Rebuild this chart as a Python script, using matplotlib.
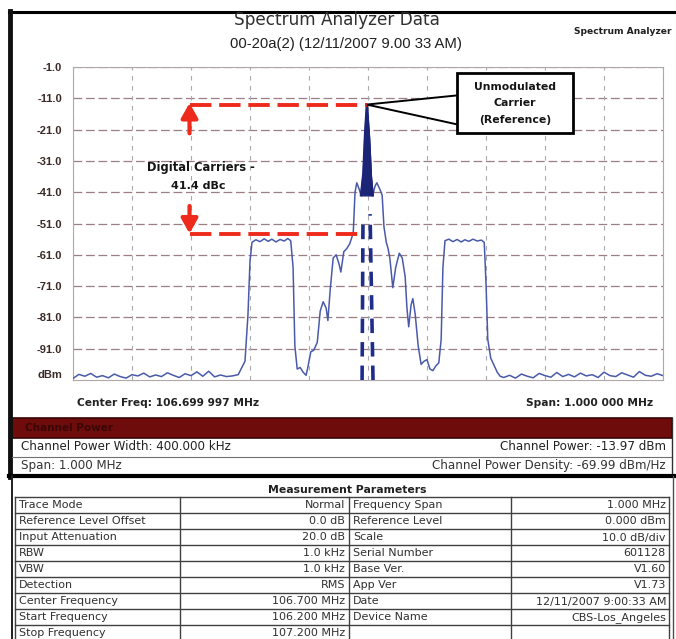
import matplotlib
matplotlib.use('Agg')
import matplotlib.pyplot as plt
from matplotlib.patches import Rectangle, Polygon
from matplotlib.lines import Line2D

plt.rcParams['font.family'] = ['DejaVu Sans']

# ---------------- data ----------------
floor_left_f = [106.20, 106.21, 106.22, 106.23, 106.24, 106.25, 106.26, 106.27, 106.28, 106.29,
                106.30, 106.31, 106.32, 106.33, 106.34, 106.35, 106.36, 106.37, 106.38, 106.39,
                106.40, 106.41, 106.42, 106.43, 106.44, 106.45, 106.46, 106.47, 106.48]
floor_left_db = [-100.5, -99.2, -99.8, -98.9, -100.1, -99.6, -100.3, -99.1, -99.9, -100.4,
                 -99.3, -99.7, -98.8, -100.0, -99.4, -99.9, -98.7, -99.5, -100.2, -99.0,
                 -99.6, -98.4, -99.8, -98.2, -100.0, -99.4, -99.9, -99.7, -99.3]

signal_f = [106.4915, 106.4966, 106.5000, 106.5034, 106.510, 106.517, 106.524, 106.531, 106.537,
            106.544, 106.551, 106.558, 106.564, 106.569, 106.573, 106.576, 106.580, 106.585,
            106.590, 106.595, 106.598, 106.603, 106.608, 106.614, 106.619, 106.624, 106.629,
            106.632, 106.636, 106.641, 106.646, 106.651, 106.654, 106.659, 106.664, 106.669,
            106.675, 106.678, 106.681, 106.685, 106.688, 106.692, 106.695, 106.698, 106.702,
            106.705, 106.708, 106.712, 106.715, 106.720, 106.724, 106.727, 106.731, 106.734,
            106.737, 106.742, 106.747, 106.753, 106.758, 106.763, 106.766, 106.769, 106.773,
            106.776, 106.780, 106.785, 106.790, 106.795, 106.800, 106.805, 106.810, 106.815,
            106.820, 106.824, 106.827, 106.8305, 106.837, 106.844, 106.851, 106.858, 106.864,
            106.871, 106.878, 106.885, 106.892, 106.897, 106.900, 106.903, 106.908, 106.914,
            106.919, 106.924]
signal_db = [-95.0, -80.0, -63.0, -57.0, -56.2, -56.8, -55.9, -56.7, -56.0,
             -56.9, -56.1, -56.6, -55.8, -56.5, -65.0, -90.0, -97.5, -97.0,
             -98.5, -99.5, -97.0, -92.0, -91.5, -89.0, -79.0, -76.0, -78.0,
             -82.0, -72.0, -62.0, -61.0, -64.0, -66.5, -60.0, -59.0, -57.5,
             -54.0, -41.0, -38.0, -40.0, -42.0, -35.0, -22.0, -13.0, -24.0,
             -36.0, -42.0, -39.0, -38.0, -40.0, -42.0, -52.0, -57.0, -59.0,
             -62.0, -71.5, -65.0, -60.5, -62.0, -68.0, -78.0, -84.0, -77.0,
             -75.0, -80.0, -90.0, -96.0, -95.0, -94.5, -97.5, -98.0, -96.5,
             -95.5, -88.0, -65.0, -56.5, -56.0, -56.8, -56.1, -56.9, -56.2,
             -56.7, -56.0, -56.6, -56.3, -57.0, -70.0, -88.0, -94.0, -96.5,
             -98.5, -99.8]

floor_right_f = [106.93, 106.94, 106.95, 106.96, 106.97, 106.98, 106.99, 107.00, 107.01, 107.02,
                 107.03, 107.04, 107.05, 107.06, 107.07, 107.08, 107.09, 107.10, 107.11, 107.12,
                 107.13, 107.14, 107.15, 107.16, 107.17, 107.18, 107.19, 107.20]
floor_right_db = [-100.2, -99.5, -100.4, -99.1, -99.8, -100.3, -98.9, -99.6, -100.1, -98.6,
                  -99.9, -99.2, -100.0, -98.8, -99.7, -99.3, -100.2, -98.5, -99.6, -99.9,
                  -98.7, -99.4, -100.1, -98.3, -99.5, -99.8, -99.0, -99.6]

peak_f = [106.688, 106.692, 106.695, 106.698, 106.702, 106.705, 106.708]
peak_db = [-42.0, -35.0, -22.0, -13.0, -24.0, -36.0, -42.0]

grid_levels = [-1, -11, -21, -31, -41, -51, -61, -71, -81, -91]
ytick_levels = [-1, -11, -21, -31, -41, -51, -61, -71, -81, -91, -99]
ytick_labels = ['-1.0', '-11.0', '-21.0', '-31.0', '-41.0', '-51.0', '-61.0', '-71.0',
                '-81.0', '-91.0', 'dBm']
grid_freqs = [106.2, 106.3, 106.4, 106.5, 106.6, 106.7, 106.8, 106.9, 107.0, 107.1, 107.2]

carrier_ref_db = -13.0
digital_db = -54.4
marker_left = ([106.690, 106.6915], [-101.0, -50.0])
marker_right = ([106.7085, 106.7035], [-101.0, -48.0])

param_labels_l = ['Trace Mode', 'Reference Level Offset', 'Input Attenuation', 'RBW', 'VBW',
                  'Detection', 'Center Frequency', 'Start Frequency', 'Stop Frequency']
param_values_l = ['Normal', '0.0 dB', '20.0 dB', '1.0 kHz', '1.0 kHz', 'RMS',
                  '106.700 MHz', '106.200 MHz', '107.200 MHz']
param_labels_r = ['Frequency Span', 'Reference Level', 'Scale', 'Serial Number', 'Base Ver.',
                  'App Ver', 'Date', 'Device Name', '']
param_values_r = ['1.000 MHz', '0.000 dBm', '10.0 dB/div', '601128', 'V1.60', 'V1.73',
                  '12/11/2007 9:00:33 AM', 'CBS-Los_Angeles', '']

# ---------------- figure ----------------
W, H = 676, 639
fig = plt.figure(figsize=(W / 100, H / 100), dpi=100)
fig.patch.set_facecolor('white')
LIB = ['Liberation Sans', 'DejaVu Sans']


def fx(x):
    return x / W


def fy(y):
    return 1 - y / H


def hline(y, x0, x1, **kw):
    fig.add_artist(Line2D([fx(x0), fx(x1)], [fy(y), fy(y)], transform=fig.transFigure, **kw))


def vline(x, y0, y1, **kw):
    fig.add_artist(Line2D([fx(x), fx(x)], [fy(y0), fy(y1)], transform=fig.transFigure, **kw))


# frame
hline(12, 9, 676, color='black', lw=2.2)
vline(10, 11, 477, color='#101010', lw=3.5)

fig.text(fx(337), fy(20), 'Spectrum Analyzer Data', ha='center', va='center',
         fontsize=12.2, color='#303030')
fig.text(fx(346), fy(44), '00-20a(2) (12/11/2007 9.00 33 AM)', ha='center', va='center',
         fontsize=10.7, color='#202020', family=LIB)
fig.text(fx(672), fy(32), 'Spectrum Analyzer', ha='right', va='center',
         fontsize=6.6, fontweight='bold', color='#202020')

ax = fig.add_axes([fx(73), fy(380), fx(663) - fx(73), fy(67) - fy(380)])
ax.set_xlim(106.2, 107.2)
ax.set_ylim(-101, -1)
for lv in grid_levels:
    ax.axhline(lv, color='#9a7f84', lw=0.9, ls=(0, (7, 3)), zorder=1)
for fq in grid_freqs:
    ax.axvline(fq, color='#a8a8b0', lw=0.8, ls=(0, (4, 5)), zorder=1)
for sp in ax.spines.values():
    sp.set_color('#b0a8a8')
    sp.set_linewidth(0.8)
ax.set_xticks([])
ax.set_yticks(ytick_levels)
ax.set_yticklabels(ytick_labels, fontsize=8, fontweight='bold', color='#3a2a25', family=LIB)
ax.tick_params(axis='y', length=0, pad=8)

trace_f = floor_left_f + signal_f + floor_right_f
trace_db = floor_left_db + signal_db + floor_right_db
ax.plot(trace_f, trace_db, color='#4a5aaa', lw=1.1, zorder=3)
ax.fill_between(peak_f, peak_db, -42.0, color='#1c2478', zorder=4)
ax.plot(peak_f, peak_db, color='#1c2478', lw=1.6, zorder=4)

# channel markers
ax.plot(*marker_left, color='#1f2d8a', lw=2.6, ls=(0, (4, 2.5)), zorder=5)
ax.plot(*marker_right, color='#1f2d8a', lw=2.6, ls=(0, (4, 2.5)), zorder=5)

# red annotations
red = '#ee2a1c'
arrow_f = 106.3975
ax.plot([arrow_f, 106.698], [carrier_ref_db, carrier_ref_db], color=red, lw=2.8,
        ls=(0, (5.5, 2)), zorder=6)
ax.plot([arrow_f, 106.695], [digital_db, digital_db], color=red, lw=2.8,
        ls=(0, (5.5, 2)), zorder=6)
aprops = dict(arrowstyle='-|>,head_width=0.45,head_length=0.8', color=red, lw=3,
              mutation_scale=11, shrinkA=0, shrinkB=0)
ax.annotate('', xy=(arrow_f, carrier_ref_db + 0.5), xytext=(arrow_f, -22.2),
            arrowprops=aprops, zorder=6)
ax.annotate('', xy=(arrow_f, digital_db + 0.2), xytext=(arrow_f, -45.4),
            arrowprops=aprops, zorder=6)
ax.text(106.417, -33.0, 'Digital Carriers -', ha='center', va='center', fontsize=8.3,
        fontweight='bold', color='#151515', zorder=7)
ax.text(106.413, -39.0, '41.4 dBc', ha='center', va='center', fontsize=8.0,
        fontweight='bold', color='#151515', zorder=7)

# callout
ax.add_patch(Polygon([(106.698, carrier_ref_db), (106.855, -10.0), (106.855, -19.5)],
                     closed=True, facecolor='white', edgecolor='black', lw=1.4, zorder=7))
ax.add_patch(Rectangle((106.851, -22.2), 0.196, 19.3, facecolor='white', edgecolor='black',
                       lw=2.0, zorder=8))
ax.text(106.949, -7.4, 'Unmodulated', ha='center', va='center', fontsize=7.8,
        fontweight='bold', color='#151515', zorder=9)
ax.text(106.949, -12.6, 'Carrier', ha='center', va='center', fontsize=7.8,
        fontweight='bold', color='#151515', zorder=9)
ax.text(106.949, -18.0, '(Reference)', ha='center', va='center', fontsize=7.8,
        fontweight='bold', color='#151515', zorder=9)

fig.text(fx(77), fy(403), 'Center Freq: 106.699 997 MHz', ha='left', va='center',
         fontsize=7.7, fontweight='bold', color='#222222')
fig.text(fx(653), fy(403), 'Span: 1.000 000 MHz', ha='right', va='center',
         fontsize=7.7, fontweight='bold', color='#222222')

# channel power section
fig.add_artist(Rectangle((fx(12), fy(438)), fx(672) - fx(12), fy(418) - fy(438),
                         transform=fig.transFigure, facecolor='#6e0c0c', edgecolor='#3a0505',
                         lw=1.2))
fig.text(fx(25), fy(428), 'Channel Power', ha='left', va='center', fontsize=7.5,
         fontweight='bold', color='#3b0606')
fig.text(fx(21), fy(447), 'Channel Power Width: 400.000 kHz', ha='left', va='center',
         fontsize=8.6, color='#222222')
fig.text(fx(666), fy(447), 'Channel Power: -13.97 dBm', ha='right', va='center',
         fontsize=8.6, color='#222222')
hline(457, 12, 672, color='#707070', lw=0.8)
fig.text(fx(21), fy(466), 'Span: 1.000 MHz', ha='left', va='center',
         fontsize=8.6, color='#333333')
fig.text(fx(666), fy(466), 'Channel Power Density: -69.99 dBm/Hz', ha='right', va='center',
         fontsize=8.6, color='#333333')
vline(672, 418, 476, color='#303030', lw=1.0)
hline(476, 9, 676, color='black', lw=3.0)

# measurement parameters
vline(12, 476, 639, color='#202020', lw=1.4)
vline(673, 476, 639, color='#505050', lw=1.0)
fig.text(fx(347), fy(490), 'Measurement Parameters', ha='center', va='center',
         fontsize=7.8, fontweight='bold', color='#202020')
col_x = [15, 180, 349, 511, 669]
row_y0, row_h = 497, 16
n_rows = len(param_labels_l)
for i in range(n_rows + 1):
    hline(row_y0 + i * row_h, col_x[0], col_x[-1], color='#404040', lw=1.0)
for cx in col_x:
    vline(cx, row_y0, row_y0 + n_rows * row_h, color='#404040', lw=1.0)
for i in range(n_rows):
    yc = row_y0 + i * row_h + 8.5
    fig.text(fx(col_x[0] + 4), fy(yc), param_labels_l[i], ha='left', va='center',
             fontsize=8.0, color='#303030')
    fig.text(fx(col_x[2] - 4), fy(yc), param_values_l[i], ha='right', va='center',
             fontsize=8.0, color='#303030')
    fig.text(fx(col_x[2] + 4), fy(yc), param_labels_r[i], ha='left', va='center',
             fontsize=8.0, color='#303030')
    fig.text(fx(col_x[4] - 3), fy(yc), param_values_r[i], ha='right', va='center',
             fontsize=8.0, color='#303030')

fig.savefig('out.png', dpi=100)
